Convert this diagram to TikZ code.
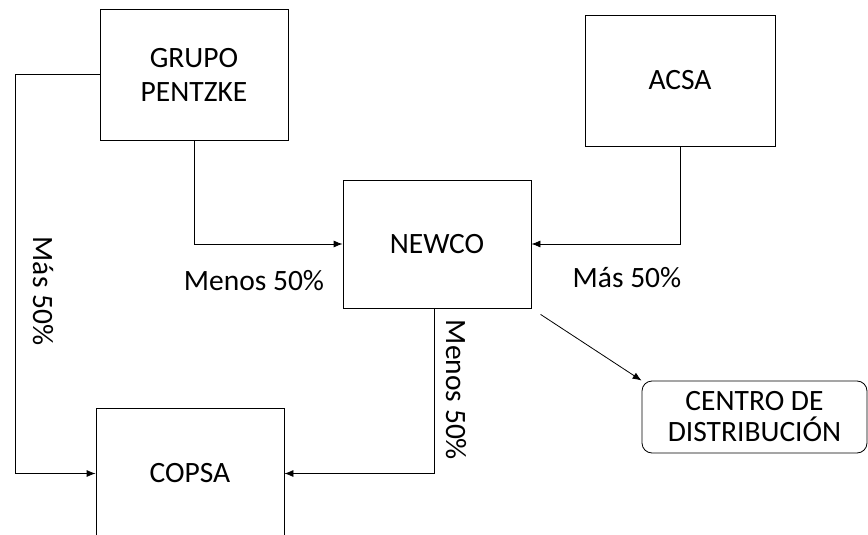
\documentclass[tikz,border=0pt]{standalone}
\usepackage{fontspec}
\setmainfont{Carlito}
\usetikzlibrary{positioning, arrows.meta}

\begin{document}
\begin{tikzpicture}[x=1pt, y=-1pt, font=\fontsize{29.5}{34}\selectfont,
		box/.style={draw, line width=0.8pt, minimum width=188pt, minimum height=131pt, inner sep=0pt, align=center},
		link/.style={-{Latex[length=9pt, width=7pt]}, line width=0.8pt}]
		\useasboundingbox (0,0) rectangle (868,535);
		\node[box] (gp) at (194,74.5) {GRUPO\\PENTZKE};
		\node[box, minimum width=190pt] (acsa) at (680,80.5) {ACSA};
		\node[box, minimum height=128pt] (newco) at (437,244) {NEWCO};
		\node[box] (copsa) at (190,473.5) {COPSA};
		\node[box, rounded corners=10pt, minimum width=225pt, minimum height=72pt, font=\fontsize{29.5}{31}\selectfont] (centro) at (754.5,417) {CENTRO DE\\DISTRIBUCIÓN};
		
		\draw[link] (gp.south) |- (newco.west);
		\draw[link] (acsa.south) |- (newco.east);
		\draw[link] (gp.west) -- ++(-84,0) |- (copsa.west);
		\draw[link] ([xshift=-3pt]newco.south) |- (copsa.east);
		\draw[link, shorten <=11pt] (newco.south east) -- (centro.north west);
		
		\node (l_gp) at (254,281) {Menos 50\%};
		\node (l_acsa) at (627,278) {Más 50\%};
		\node[rotate=-90] (l_copsa) at (43,291) {Más 50\%};
		\node[rotate=-90] (l_newco) at (456,390) {Menos 50\%};
\end{tikzpicture}
\end{document}
